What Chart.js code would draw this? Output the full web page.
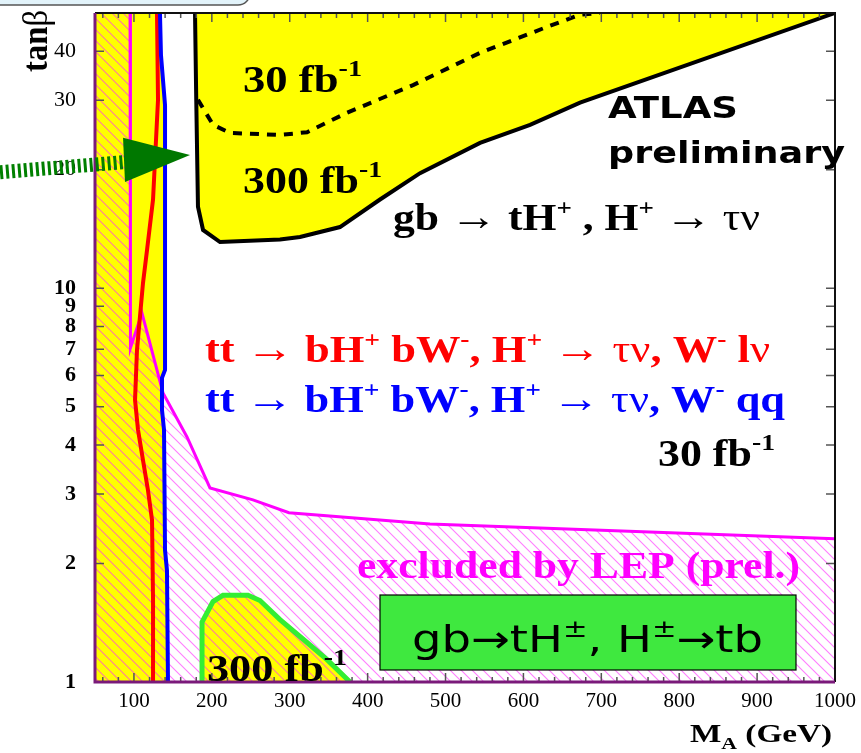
<!DOCTYPE html>
<html>
<head>
<meta charset="utf-8">
<script src="https://cdn.jsdelivr.net/npm/chart.js@4.4.0/dist/chart.umd.min.js"></script>
<style>
  html, body { margin: 0; background: #fff; }
  #wrap { width: 861px; height: 753px; position: relative; }
</style>
</head>
<body>
<div id="wrap"><canvas id="c" width="861" height="753"></canvas></div>
<script>
// Axis ticks
const xTicks = [100, 200, 300, 400, 500, 600, 700, 800, 900, 1000];
const yTicks = [1, 2, 3, 4, 5, 6, 7, 8, 9, 10, 20, 30, 40];

// tt -> bH+ bW-, W- qq (blue) contour
const blueX = [133.4, 134.7, 139.9, 139.9, 139.9, 136.0, 136.0, 138.6, 139.9, 142.4, 143.7];
const blueY = [50, 39.1, 29.2, 12.5, 6.2, 5.92, 4.91, 4.37, 2.16, 1.92, 1];

// tt -> bH+ bW-, W- lv (red) contour
const redX = [129.6, 130.9, 124.5, 116.8, 111.6, 103.9, 101.4, 105.2, 111.6, 118.0, 123.2, 124.5, 124.5];
const redY = [50, 30.1, 16.8, 12.5, 10.3, 6.97, 5.2, 4.37, 3.66, 3.07, 2.58, 1.62, 1];

// LEP exclusion boundary
const lepX = [95, 95.5, 110.3, 137.3, 168.1, 197.6, 252.8, 299, 480, 1000];
const lepY = [50, 7.05, 8.65, 5.42, 4.19, 3.11, 2.90, 2.69, 2.52, 2.31];

// gb -> tH+, H+ -> tau nu, 300 fb-1 contour
const tau300X = [178.4, 180, 182.2, 188.7, 210.5, 287.5, 313.2, 364.5, 415.9, 467.3, 544.3, 608.5, 672.7, 1000];
const tau300Y = [50, 30, 16.1, 14.06, 13.1, 13.3, 13.5, 14.3, 16.8, 19.6, 23.4, 26.0, 29.6, 50];

// gb -> tH+, H+ -> tau nu, 30 fb-1 contour (dashed)
const tau30X = [182.2, 201.5, 223.3, 287.5, 322.2, 373.5, 458.3, 544.3, 630.3, 672.7, 698];
const tau30Y = [30.1, 26.0, 24.8, 24.5, 24.9, 27.9, 32.8, 39.6, 46.1, 49.5, 50];

// gb -> tH+, H+ -> tb, 300 fb-1 contour (green)
const tbX = [187.4, 187.4, 201.5, 214.3, 246.4, 261.8, 287.5, 322.2, 347.9, 377.4];
const tbY = [1, 1.42, 1.60, 1.66, 1.66, 1.61, 1.44, 1.26, 1.14, 1];

// green pointer arrow (annotation)
const arrowX = [-72, 86, 86, 172, 88.5];
const arrowY = [19.7, 20.9, 24.1, 21.8, 18.6];

function pts(xs, ys) {
  return xs.map((x, i) => ({ x: x, y: ys[i] }));
}

function hatch() {
  const c = document.createElement('canvas');
  c.width = 11; c.height = 11;
  const g = c.getContext('2d');
  g.strokeStyle = 'rgba(255,40,255,0.6)';
  g.lineWidth = 1.1;
  g.beginPath();
  g.moveTo(-2, -2); g.lineTo(13, 13);
  g.moveTo(-2, 9); g.lineTo(2, 13);
  g.moveTo(9, -2); g.lineTo(13, 2);
  g.stroke();
  return g.createPattern(c, 'repeat');
}

const YEL = '#ffff00';
const leftBand = [{ x: 50, y: 50 }].concat(pts(blueX, blueY), [{ x: 50, y: 1 }]);
const lepArea = [{ x: 50, y: 50 }].concat(pts(lepX, lepY), [{ x: 1000, y: 1 }, { x: 50, y: 1 }]);

function shape(data, color, order) {
  return { data: data, fill: 'shape', backgroundColor: color, borderWidth: 0, pointRadius: 0, order: order };
}
function curve(data, color, width, order, dash) {
  return { data: data, fill: false, borderColor: color, borderWidth: width, pointRadius: 0,
           order: order, borderDash: dash || [], tension: 0 };
}

// text helper: draws pieces [text, font, dy] fitted to a given width
function rich(ctx, x, y, segs, color, width) {
  ctx.save();
  let w = 0;
  segs.forEach(s => { ctx.font = s[1]; w += ctx.measureText(s[0]).width; });
  ctx.translate(x, y);
  ctx.scale(width / w, 1);
  ctx.fillStyle = color;
  ctx.textAlign = 'left';
  ctx.textBaseline = 'alphabetic';
  let cx = 0;
  segs.forEach(s => {
    ctx.font = s[1];
    ctx.fillText(s[0], cx, s[2] || 0);
    cx += ctx.measureText(s[0]).width;
  });
  ctx.restore();
}

const B = n => 'bold ' + n + 'px "Liberation Serif"';
const N = n => n + 'px "Liberation Serif"';

function ttLine(last) {
  return [['tt ', B(37)], ['\u2192', N(40)], [' bH', B(37)], ['+', B(23), -15], [' bW', B(37)], ['-', B(23), -15],
          [', H', B(37)], ['+', B(23), -15], [' ', B(37)], ['\u2192', N(40)], [' ', B(37)], ['\u03c4\u03bd', N(37)],
          [', W', B(37)], ['-', B(23), -15]].concat(last);
}

const decor = {
  id: 'decor',
  beforeDraw(chart) {
    const ctx = chart.ctx;
    ctx.save();
    ctx.fillStyle = '#e2f3fa';
    ctx.strokeStyle = '#555';
    ctx.lineWidth = 1.5;
    ctx.beginPath();
    ctx.moveTo(-5, -5);
    ctx.lineTo(250, -5);
    ctx.lineTo(250, -8);
    ctx.arcTo(250, 5, 237, 5, 12);
    ctx.lineTo(-5, 5);
    ctx.closePath();
    ctx.fill();
    ctx.stroke();
    ctx.restore();
  },
  afterDatasetsDraw(chart) {
    const ctx = chart.ctx, a = chart.chartArea, xs = chart.scales.x, ys = chart.scales.y;
    ctx.save();
    ctx.strokeStyle = '#555';
    ctx.lineWidth = 1.5;
    ctx.beginPath();
    for (let v = 60; v < 1000; v += 20) {
      const len = v % 100 === 0 ? 9 : 5;
      const px = xs.getPixelForValue(v);
      ctx.moveTo(px, a.bottom); ctx.lineTo(px, a.bottom - len);
      ctx.moveTo(px, a.top); ctx.lineTo(px, a.top + len);
    }
    yTicks.forEach(v => {
      const py = ys.getPixelForValue(v);
      ctx.moveTo(a.left, py); ctx.lineTo(a.left + 9, py);
      ctx.moveTo(a.right, py); ctx.lineTo(a.right - 9, py);
    });
    ctx.stroke();
    // frame
    ctx.strokeStyle = '#111';
    ctx.lineWidth = 2;
    ctx.beginPath();
    ctx.moveTo(a.left, a.top); ctx.lineTo(a.right, a.top); ctx.lineTo(a.right, a.bottom);
    ctx.stroke();
    ctx.strokeStyle = '#7a1a7a';
    ctx.lineWidth = 3;
    ctx.beginPath();
    ctx.moveTo(a.left, a.top); ctx.lineTo(a.left, a.bottom); ctx.lineTo(a.right, a.bottom);
    ctx.stroke();
    ctx.restore();
  },
  afterDraw(chart) {
    const ctx = chart.ctx, xs = chart.scales.x, ys = chart.scales.y;
    const px = i => xs.getPixelForValue(arrowX[i]);
    const py = i => ys.getPixelForValue(arrowY[i]);

    rich(ctx, 243, 92, [['30 fb', B(38)], ['-1', B(24), -16]], '#000', 119);
    rich(ctx, 243, 193, [['300 fb', B(38)], ['-1', B(24), -16]], '#000', 139);
    rich(ctx, 393, 230, [['gb ', B(37)], ['\u2192', N(40)], [' tH', B(37)], ['+', B(23), -15], [' , H', B(37)],
                         ['+', B(23), -15], [' ', B(37)], ['\u2192', N(40)], [' ', B(37)], ['\u03c4\u03bd', N(37)]], '#000', 367);
    rich(ctx, 205, 362, ttLine([[' l', B(37)], ['\u03bd', N(37)]]), '#ff0000', 565);
    rich(ctx, 205, 412, ttLine([[' qq', B(37)]]), '#0000ff', 580);
    rich(ctx, 658, 466, [['30 fb', B(38)], ['-1', B(24), -16]], '#000', 117);
    rich(ctx, 357, 578, [['excluded by LEP (prel.)', B(37)]], '#ff00ff', 443);
    rich(ctx, 207, 681, [['300 fb', B(38)], ['-1', B(24), -16]], '#000', 140);

    rich(ctx, 608, 118, [['ATLAS', 'bold 30px "DejaVu Sans"']], '#000', 130);
    rich(ctx, 608, 163, [['preliminary', 'bold 30px "DejaVu Sans"']], '#000', 237);

    // green label box
    ctx.save();
    ctx.fillStyle = '#3fe83f';
    ctx.strokeStyle = '#000';
    ctx.lineWidth = 1.2;
    ctx.fillRect(380, 595, 416, 75);
    ctx.strokeRect(380, 595, 416, 75);
    ctx.restore();
    rich(ctx, 412, 652, [['gb\u2192tH', '38px "DejaVu Sans"'], ['\u00b1', '24px "DejaVu Sans"', -15],
                         [', H', '38px "DejaVu Sans"'], ['\u00b1', '24px "DejaVu Sans"', -15],
                         ['\u2192tb', '38px "DejaVu Sans"']], '#000', 351);

    // axis titles
    ctx.save();
    ctx.translate(47, 72);
    ctx.rotate(-Math.PI / 2);
    rich(ctx, 0, 0, [['tan', B(36)], ['\u03b2', N(36)]], '#000', 62);
    ctx.restore();
    rich(ctx, 690, 742, [['M', B(26)], ['A', B(17), 7], [' (GeV)', B(26)]], '#000', 142);

    // green arrow
    ctx.save();
    ctx.strokeStyle = '#008000';
    ctx.lineWidth = 14;
    ctx.setLineDash([3, 3]);
    ctx.beginPath();
    ctx.moveTo(px(0), py(0));
    ctx.lineTo(px(1), py(1));
    ctx.stroke();
    ctx.fillStyle = '#007800';
    ctx.beginPath();
    ctx.moveTo(px(2), py(2));
    ctx.lineTo(px(3), py(3));
    ctx.lineTo(px(4), py(4));
    ctx.closePath();
    ctx.fill();
    ctx.restore();
  }
};

const tickFont = { family: 'Liberation Serif', size: 21 };

new Chart(document.getElementById('c'), {
  type: 'line',
  data: {
    datasets: [
      curve(pts(tbX, tbY), '#33ee33', 5, 2),
      curve(pts(tau30X, tau30Y), '#000', 4, 2, [9, 8]),
      curve(pts(tau300X, tau300Y), '#000', 4, 2),
      curve(pts(blueX, blueY), '#0000ff', 4, 3),
      curve(pts(redX, redY), '#ff0000', 4, 3),
      curve(pts(lepX, lepY), '#ff00ff', 3, 4),
      shape(lepArea, hatch(), 8),
      shape(pts(tbX, tbY), YEL, 9),
      shape(pts(tau300X, tau300Y), YEL, 9),
      shape(leftBand, YEL, 9)
    ]
  },
  options: {
    responsive: false,
    animation: false,
    layout: { padding: { top: 13, right: 26, left: 0, bottom: 0 } },
    plugins: { legend: { display: false }, tooltip: { enabled: false } },
    scales: {
      x: {
        type: 'linear', min: 50, max: 1000,
        afterBuildTicks: s => { s.ticks = xTicks.map(v => ({ value: v })); },
        afterFit: s => { s.height = 71; s.paddingLeft = 0; s.paddingRight = 0; },
        grid: { display: false, drawTicks: false },
        border: { display: false },
        ticks: { padding: 7, color: '#000', font: tickFont, callback: v => String(v), maxRotation: 0, autoSkip: false }
      },
      y: {
        type: 'logarithmic', min: 1, max: 50,
        afterBuildTicks: s => { s.ticks = yTicks.map(v => ({ value: v })); },
        afterFit: s => { s.width = 95; s.paddingTop = 0; s.paddingBottom = 0; },
        grid: { display: false, drawTicks: false },
        border: { display: false },
        ticks: {
          padding: 19, color: '#000', autoSkip: false,
          callback: v => String(v),
          font: c => ({ family: 'Liberation Serif', size: 22, weight: (c.tick && c.tick.value >= 20) ? 'normal' : 'bold' })
        }
      }
    }
  },
  plugins: [decor]
});
</script>
</body>
</html>
